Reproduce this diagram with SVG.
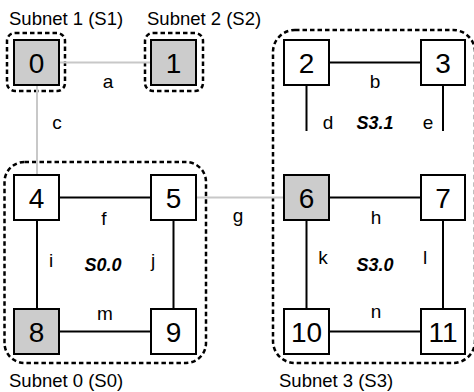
<svg xmlns="http://www.w3.org/2000/svg" width="474" height="392" viewBox="0 0 474 392">
<style>
.bg{fill:#ffffff}
.grp{fill:none;stroke:#000;stroke-width:2.5;stroke-dasharray:4.5,3}
.box{fill:#fff;stroke:#000;stroke-width:2}
.gbox{fill:#cccccc;stroke:#000;stroke-width:2}
.num{font-family:"Liberation Sans",Arial,sans-serif;font-size:28px;fill:#000;text-anchor:middle}
.lbl{font-family:"Liberation Sans",Arial,sans-serif;font-size:19px;fill:#000;text-anchor:middle}
.sub{font-family:"Liberation Sans",Arial,sans-serif;font-size:18.5px;fill:#000}
.snm{font-family:"Liberation Sans",Arial,sans-serif;font-size:18px;font-weight:bold;font-style:italic;fill:#000;text-anchor:middle}
.e{stroke:#000;stroke-width:2;fill:none}
.eg{stroke:#c8c8c8;stroke-width:2;fill:none}
</style>
<rect class="bg" x="0" y="0" width="474" height="392"/>
<g id="subnets">
  <rect class="grp" x="7" y="33" width="58" height="58" rx="8"/>
  <rect class="grp" x="145" y="33" width="58" height="58" rx="8"/>
  <rect class="grp" x="4.5" y="162" width="201.5" height="201" rx="20"/>
  <rect class="grp" x="273" y="30" width="202" height="333" rx="22"/>
  <text class="sub" x="9" y="25">Subnet 1 (S1)</text>
  <text class="sub" x="147" y="25">Subnet 2 (S2)</text>
  <text class="sub" x="9" y="387">Subnet 0 (S0)</text>
  <text class="sub" x="279" y="387">Subnet 3 (S3)</text>
  <text class="snm" x="103" y="271">S0.0</text>
  <text class="snm" x="375" y="271">S3.0</text>
  <text class="snm" x="375" y="129">S3.1</text>
</g>
<g id="connectors">
  <line class="eg" x1="59" y1="62.5" x2="151" y2="62.5"/>
  <line class="eg" x1="37" y1="85" x2="37" y2="175"/>
  <line class="eg" x1="196" y1="197.5" x2="284" y2="197.5"/>
  <line class="e" x1="329" y1="62.5" x2="421" y2="62.5"/>
  <line class="e" x1="306.5" y1="85" x2="306.5" y2="131"/>
  <line class="e" x1="443" y1="85" x2="443" y2="131"/>
  <line class="e" x1="59" y1="197.5" x2="151" y2="197.5"/>
  <line class="e" x1="37" y1="220" x2="37" y2="309"/>
  <line class="e" x1="173.5" y1="220" x2="173.5" y2="309"/>
  <line class="e" x1="59" y1="331.5" x2="151" y2="331.5"/>
  <line class="e" x1="329" y1="197.5" x2="421" y2="197.5"/>
  <line class="e" x1="306.5" y1="220" x2="306.5" y2="309"/>
  <line class="e" x1="443" y1="220" x2="443" y2="309"/>
  <line class="e" x1="329" y1="331.5" x2="421" y2="331.5"/>
  <text class="lbl" x="108" y="88">a</text>
  <text class="lbl" x="375" y="88">b</text>
  <text class="lbl" x="57" y="129">c</text>
  <text class="lbl" x="328" y="129">d</text>
  <text class="lbl" x="428" y="129">e</text>
  <text class="lbl" x="104" y="225">f</text>
  <text class="lbl" x="238" y="222">g</text>
  <text class="lbl" x="376" y="224">h</text>
  <text class="lbl" x="51" y="267">i</text>
  <text class="lbl" x="153" y="267">j</text>
  <text class="lbl" x="323" y="264">k</text>
  <text class="lbl" x="425" y="264">l</text>
  <text class="lbl" x="105" y="320">m</text>
  <text class="lbl" x="376" y="318">n</text>
</g>
<g id="n0"><rect class="gbox" x="14" y="40" width="45" height="45"/><text class="num" x="36.5" y="72.5">0</text></g>
<g id="n1"><rect class="gbox" x="151" y="40" width="45" height="45"/><text class="num" x="173.5" y="72.5">1</text></g>
<g id="n2"><rect class="box" x="284" y="40" width="45" height="45"/><text class="num" x="306.5" y="72.5">2</text></g>
<g id="n3"><rect class="box" x="421" y="40" width="44" height="45"/><text class="num" x="443" y="72.5">3</text></g>
<g id="n4"><rect class="box" x="14" y="175" width="45" height="45"/><text class="num" x="36.5" y="207.5">4</text></g>
<g id="n5"><rect class="box" x="151" y="175" width="45" height="45"/><text class="num" x="173.5" y="207.5">5</text></g>
<g id="n6"><rect class="gbox" x="284" y="175" width="45" height="45"/><text class="num" x="306.5" y="207.5">6</text></g>
<g id="n7"><rect class="box" x="421" y="175" width="44" height="45"/><text class="num" x="443" y="207.5">7</text></g>
<g id="n8"><rect class="gbox" x="14" y="309" width="45" height="45"/><text class="num" x="36.5" y="341.5">8</text></g>
<g id="n9"><rect class="box" x="151" y="309" width="45" height="45"/><text class="num" x="173.5" y="341.5">9</text></g>
<g id="n10"><rect class="box" x="284" y="309" width="45" height="45"/><text class="num" x="306.5" y="341.5">10</text></g>
<g id="n11"><rect class="box" x="421" y="309" width="44" height="45"/><text class="num" x="443" y="341.5">11</text></g>
</svg>
